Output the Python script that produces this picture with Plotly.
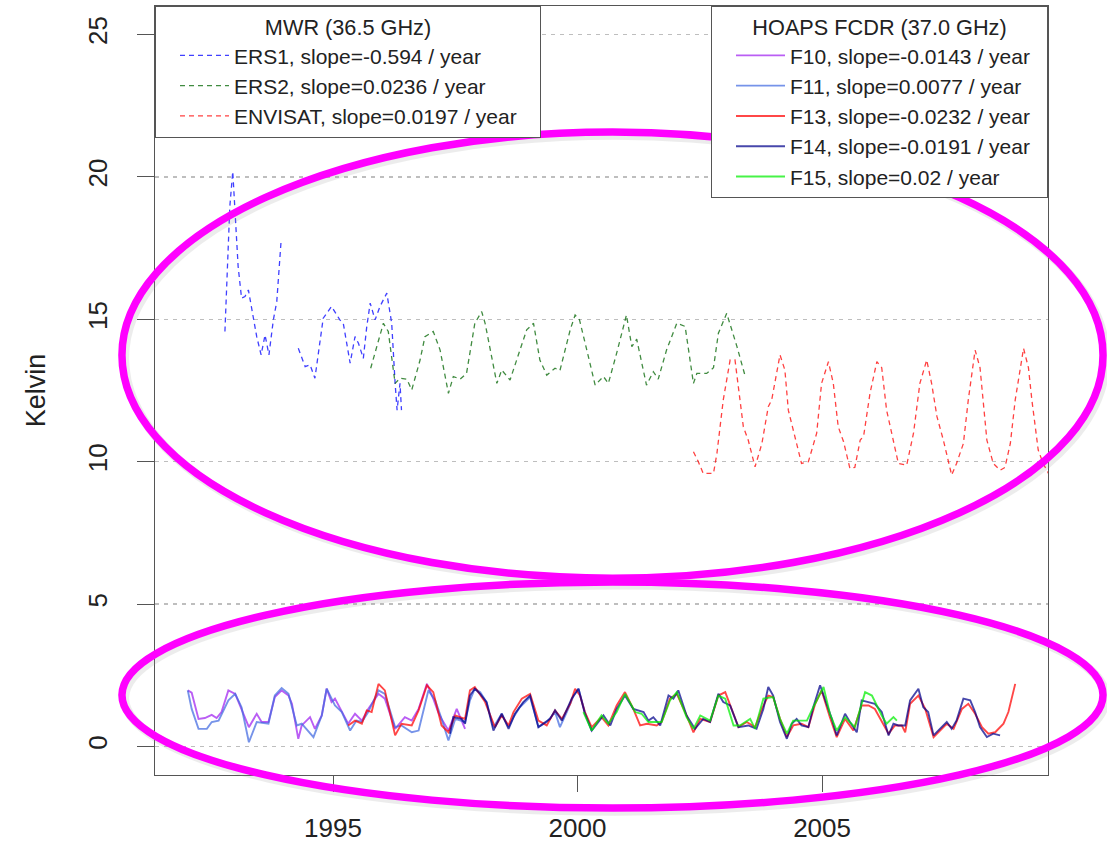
import plotly.graph_objects as go

# ---------------- data ----------------
# MWR (36.5 GHz), dashed
ers1_year = [1992.79, 1992.89, 1992.95, 1992.98, 1993.06, 1993.13, 1993.20, 1993.27, 1993.34, 1993.44,
             1993.53, 1993.61, 1993.69, 1993.78, 1993.85, 1993.94, None,
             1994.29, 1994.43, 1994.53, 1994.63, 1994.80, 1994.97, 1995.14, 1995.21, 1995.35, 1995.45,
             1995.52, 1995.62, 1995.69, 1995.76, 1995.86, 1995.96, 1996.10, 1996.20, 1996.27, 1996.31,
             1996.37, 1996.40]
ers1_val = [14.57, 18.96, 20.19, 19.20, 16.85, 15.74, 15.80, 16.03, 15.33, 14.39,
            13.75, 14.45, 13.75, 14.98, 15.62, 17.79, None,
            13.98, 13.34, 13.40, 12.93, 15.04, 15.45, 14.98, 14.86, 13.46, 14.39,
            14.16, 13.63, 14.74, 15.57, 14.98, 15.45, 15.92, 14.86, 12.75, 11.81,
            12.75, 11.81]

ers2_year = [1995.77, 1996.03, 1996.13, 1996.27, 1996.37, 1996.51, 1996.61, 1996.78, 1996.88, 1997.05,
             1997.19, 1997.36, 1997.46, 1997.60, 1997.73, 1997.90, 1998.04, 1998.11, 1998.35, 1998.45,
             1998.62, 1998.76, 1998.96, 1999.10, 1999.23, 1999.37, 1999.54, 1999.64, 1999.85, 1999.95,
             2000.04, 2000.19, 2000.36, 2000.53, 2000.63, 2000.80, 2001.00, 2001.11, 2001.21, 2001.41,
             2001.55, 2001.65, 2001.82, 2002.03, 2002.20, 2002.37, 2002.44, 2002.64, 2002.78, 2002.88,
             2003.05, 2003.26, 2003.43]
ers2_val = [13.28, 14.86, 14.57, 12.75, 12.93, 12.90, 12.52, 13.57, 14.39, 14.57,
            13.92, 12.40, 12.99, 12.90, 13.10, 14.86, 15.27, 14.86, 12.75, 13.22,
            12.87, 13.57, 14.63, 14.86, 13.57, 13.04, 13.28, 13.20, 14.63, 15.15,
            14.98, 13.92, 12.69, 12.99, 12.75, 13.81, 15.15, 14.04, 14.30, 12.69,
            13.16, 12.90, 13.92, 14.86, 14.75, 12.75, 13.10, 13.10, 13.30, 14.51,
            15.21, 14.04, 12.99]

envisat_year = [2002.37, 2002.47, 2002.57, 2002.78, 2002.85, 2002.98, 2003.12, 2003.22, 2003.39, 2003.49,
                2003.63, 2003.77, 2003.90, 2003.97, 2004.14, 2004.24, 2004.31, 2004.48, 2004.58, 2004.72,
                2004.89, 2004.99, 2005.13, 2005.23, 2005.33, 2005.44, 2005.57, 2005.67, 2005.78, 2005.85,
                2005.98, 2006.12, 2006.22, 2006.32, 2006.46, 2006.56, 2006.73, 2006.87, 2007.00, 2007.14,
                2007.24, 2007.35, 2007.48, 2007.65, 2007.75, 2007.89, 2007.99, 2008.13, 2008.23, 2008.37,
                2008.50, 2008.64, 2008.74, 2008.85, 2008.95, 2009.12, 2009.22, 2009.29, 2009.42, 2009.52,
                2009.63]
envisat_val = [10.35, 10.00, 9.59, 9.59, 10.29, 12.17, 13.57, 13.57, 11.23, 10.76,
               9.82, 10.64, 11.93, 12.17, 13.75, 13.22, 11.81, 10.64, 9.94, 10.00,
               11.00, 12.75, 13.51, 12.75, 11.23, 10.70, 9.76, 9.80, 10.76, 10.90,
               12.40, 13.51, 13.30, 11.81, 10.76, 9.94, 9.88, 11.00, 12.75, 13.57,
               12.75, 11.58, 10.76, 9.53, 9.94, 10.64, 12.17, 13.92, 13.30, 10.76,
               9.94, 9.70, 9.80, 10.64, 12.17, 13.98, 13.30, 12.17, 10.41, 9.94,
               9.59]

# HOAPS FCDR (37.0 GHz), solid
f10_year = [1992.03, 1992.11, 1992.25, 1992.38, 1992.52, 1992.62, 1992.72, 1992.86, 1993.00, 1993.13,
            1993.28, 1993.44, 1993.54, 1993.68, 1993.81, 1993.95, 1994.09, 1994.16, 1994.29, 1994.36,
            1994.53, 1994.63, 1994.77, 1994.87, 1994.97, 1995.04, 1995.18, 1995.31, 1995.45, 1995.59,
            1995.72, 1995.93, 1996.06, 1996.27, 1996.47, 1996.61, 1996.75, 1996.92, 1997.05, 1997.15,
            1997.22, 1997.36, 1997.53, 1997.70]
f10_val = [1.97, 1.89, 0.97, 1.00, 1.11, 1.00, 1.21, 1.97, 1.85, 1.32,
           0.68, 1.15, 0.86, 0.86, 1.74, 1.97, 1.79, 1.50, 0.27, 0.74,
           1.03, 0.62, 1.09, 2.03, 1.56, 1.68, 1.21, 0.80, 1.15, 0.91,
           1.32, 1.85, 1.68, 0.62, 1.03, 0.91, 1.32, 2.20, 1.68, 1.21,
           0.97, 0.56, 1.32, 0.62]

f11_year = [1992.03, 1992.11, 1992.25, 1992.42, 1992.52, 1992.66, 1992.86, 1993.00, 1993.13, 1993.28,
            1993.44, 1993.68, 1993.81, 1993.95, 1994.09, 1994.26, 1994.36, 1994.46, 1994.60, 1994.77,
            1994.87, 1995.04, 1995.18, 1995.35, 1995.48, 1995.59, 1995.72, 1995.93, 1996.06, 1996.27,
            1996.40, 1996.61, 1996.75, 1996.95, 1997.09, 1997.22, 1997.36, 1997.50, 1997.70, 1997.80,
            1997.90, 1998.01, 1998.14, 1998.28, 1998.45, 1998.59, 1998.69, 1998.82, 1999.03, 1999.20,
            1999.37, 1999.54, 1999.64, 1999.78, 1999.92, 2000.02, 2000.15, 2000.29]
f11_val = [1.97, 1.32, 0.62, 0.62, 0.86, 0.91, 1.62, 1.85, 1.38, 0.15,
           0.86, 0.80, 1.79, 2.05, 1.85, 0.74, 0.80, 0.62, 0.33, 1.09,
           2.03, 1.44, 1.21, 0.56, 0.91, 0.86, 1.21, 1.97, 1.85, 0.68,
           0.74, 0.50, 0.56, 1.97, 1.62, 0.97, 0.21, 0.97, 0.86, 1.62,
           2.03, 1.91, 1.56, 0.68, 1.15, 0.68, 1.03, 1.38, 1.74, 0.68,
           0.86, 1.21, 0.68, 1.21, 1.79, 2.03, 1.21, 0.56]

f13_year = [1995.31, 1995.45, 1995.59, 1995.69, 1995.79, 1995.93, 1996.06, 1996.27, 1996.40, 1996.61,
            1996.75, 1996.92, 1997.05, 1997.22, 1997.36, 1997.50, 1997.70, 1997.80, 1997.90, 1998.11,
            1998.31, 1998.45, 1998.59, 1998.69, 1998.86, 1999.03, 1999.20, 1999.37, 1999.54, 1999.68,
            1999.85, 1999.95, 2000.05, 2000.15, 2000.29, 2000.49, 2000.63, 2000.80, 2000.97, 2001.14,
            2001.28, 2001.42, 2001.62, 2001.72, 2001.89, 2002.03, 2002.23, 2002.37, 2002.51, 2002.71,
            2002.88, 2003.02, 2003.15, 2003.29, 2003.46, 2003.63, 2003.77, 2003.90, 2004.00, 2004.14,
            2004.28, 2004.41, 2004.58, 2004.72, 2004.86, 2004.99, 2005.16, 2005.30, 2005.47, 2005.64,
            2005.81, 2005.95, 2006.08, 2006.22, 2006.36, 2006.49, 2006.63, 2006.70, 2006.80, 2006.97,
            2007.11, 2007.28, 2007.41, 2007.55, 2007.69, 2007.86, 2007.99, 2008.13, 2008.27, 2008.40,
            2008.54, 2008.71, 2008.81, 2008.95]
f13_val = [0.74, 0.91, 0.80, 1.27, 1.21, 2.20, 1.97, 0.39, 0.80, 0.74,
           1.27, 2.15, 1.91, 0.74, 0.50, 1.09, 0.97, 1.97, 2.09, 1.56,
           0.68, 1.09, 0.74, 1.21, 1.68, 1.85, 0.91, 0.74, 1.27, 0.97,
           1.50, 2.03, 1.79, 1.21, 0.68, 1.03, 0.74, 1.44, 1.91, 1.32,
           0.74, 0.80, 0.74, 0.86, 1.68, 1.85, 1.09, 0.50, 0.97, 0.86,
           1.79, 1.91, 1.32, 0.68, 0.86, 0.68, 1.32, 1.79, 1.74, 0.97,
           0.33, 0.74, 0.80, 0.68, 1.50, 1.97, 1.03, 0.33, 0.97, 0.56,
           1.44, 1.44, 1.32, 0.91, 0.45, 0.74, 0.74, 0.50, 1.50, 1.79,
           1.32, 0.33, 0.56, 0.80, 0.62, 1.32, 1.50, 1.15, 0.68, 0.45,
           0.50, 0.80, 1.21, 2.20]

f14_year = [1997.39, 1997.46, 1997.63, 1997.70, 1997.80, 1997.90, 1998.01, 1998.14, 1998.28, 1998.45,
            1998.59, 1998.72, 1998.89, 1999.03, 1999.20, 1999.44, 1999.54, 1999.68, 1999.88, 2000.02,
            2000.15, 2000.29, 2000.53, 2000.67, 2000.80, 2000.97, 2001.14, 2001.35, 2001.45, 2001.55,
            2001.69, 2001.86, 2001.96, 2002.06, 2002.23, 2002.40, 2002.57, 2002.71, 2002.88, 2002.98,
            2003.12, 2003.29, 2003.49, 2003.66, 2003.80, 2003.90, 2004.00, 2004.14, 2004.28, 2004.38,
            2004.48, 2004.58, 2004.72, 2004.82, 2004.96, 2005.06, 2005.20, 2005.30, 2005.47, 2005.57,
            2005.71, 2005.81, 2005.95, 2006.08, 2006.22, 2006.36, 2006.46, 2006.56, 2006.70, 2006.80,
            2006.97, 2007.07, 2007.17, 2007.28, 2007.41, 2007.55, 2007.65, 2007.75, 2007.89, 2008.03,
            2008.13, 2008.23, 2008.37, 2008.50, 2008.64]
f14_val = [0.45, 1.03, 0.97, 0.80, 1.79, 2.03, 1.85, 1.56, 0.56, 1.15,
           0.62, 1.15, 1.56, 1.79, 0.68, 0.97, 1.27, 0.91, 1.68, 2.03,
           1.15, 0.56, 1.09, 0.74, 1.32, 1.79, 1.32, 1.21, 0.91, 1.03,
           0.74, 1.79, 1.68, 1.97, 1.09, 0.62, 0.97, 0.86, 1.85, 1.56,
           1.44, 0.68, 0.74, 0.62, 1.32, 2.09, 1.79, 0.86, 0.27, 0.80,
           0.97, 0.74, 0.68, 1.38, 2.15, 1.68, 0.97, 0.39, 1.15, 0.86,
           0.50, 1.62, 1.56, 1.50, 1.21, 0.39, 0.80, 0.74, 0.74, 1.62,
           2.03, 1.38, 1.21, 0.39, 0.62, 0.86, 0.62, 0.91, 1.68, 1.62,
           1.21, 0.68, 0.33, 0.45, 0.39]

f15_year = [2000.12, 2000.29, 2000.49, 2000.63, 2000.80, 2000.97, 2001.18, 2001.31, 2001.45, 2001.72,
            2001.89, 2002.03, 2002.23, 2002.37, 2002.51, 2002.71, 2002.88, 2003.02, 2003.19, 2003.32,
            2003.53, 2003.63, 2003.80, 2004.00, 2004.14, 2004.28, 2004.41, 2004.58, 2004.69, 2004.82,
            2005.03, 2005.16, 2005.30, 2005.47, 2005.67, 2005.88, 2006.02, 2006.22, 2006.32, 2006.46,
            2006.53]
f15_val = [1.21, 0.56, 1.09, 0.80, 1.21, 1.85, 1.21, 1.15, 0.86, 0.86,
           1.62, 1.91, 1.03, 0.62, 1.09, 0.91, 1.79, 1.68, 0.74, 0.74,
           0.97, 0.62, 1.68, 1.74, 0.97, 0.45, 0.91, 0.91, 0.91, 1.38,
           2.09, 1.15, 0.56, 1.03, 0.68, 1.91, 1.79, 1.09, 0.80, 1.03,
           0.91]

mwr_names = ["ERS1, slope=-0.594 / year", "ERS2, slope=0.0236 / year", "ENVISAT, slope=0.0197 / year"]
hoaps_names = ["F10, slope=-0.0143 / year", "F11, slope=0.0077 / year", "F13, slope=-0.0232 / year",
               "F14, slope=-0.0191 / year", "F15, slope=0.02 / year"]
mwr_title = "MWR (36.5 GHz)"
hoaps_title = "HOAPS FCDR (37.0 GHz)"
x_ticks = [1995, 2000, 2005]
y_ticks = [0, 5, 10, 15, 20, 25]
y_label = "Kelvin"

# ---------------- figure ----------------
FONT = "Liberation Sans, Arial, Helvetica, sans-serif"
PAD1 = "\u00a0\u00a0\u00a0"  # right padding inside the legend boxes
PAD2 = "\u00a0\u00a0"
fig = go.Figure()

mwr_series = [(ers1_year, ers1_val, "#0000FF"), (ers2_year, ers2_val, "#006400"), (envisat_year, envisat_val, "#FF0000")]
for name, (xs, ys, col) in zip(mwr_names, mwr_series):
    fig.add_trace(go.Scatter(x=xs, y=ys, mode="lines", name=name + PAD1, legend="legend",
                             line=dict(color=col, width=1.3, dash="5px,4px"), opacity=0.75,
                             connectgaps=False, hoverinfo="skip"))

hoaps_series = [(f10_year, f10_val, "#A020F0"), (f11_year, f11_val, "#4169E1"), (f13_year, f13_val, "#FF0000"),
                (f14_year, f14_val, "#00008B"), (f15_year, f15_val, "#00EE00")]
for name, (xs, ys, col) in zip(hoaps_names, hoaps_series):
    fig.add_trace(go.Scatter(x=xs, y=ys, mode="lines", name=name + PAD2, legend="legend2",
                             line=dict(color=col, width=1.9), opacity=0.72, hoverinfo="skip"))

# magenta highlight ellipses (with soft shadow)
def ellipse(x0, y0, x1, y1, color, width, opacity=1.0):
    return dict(type="circle", xref="paper", yref="paper", x0=x0, y0=y0, x1=x1, y1=y1,
                line=dict(color=color, width=width), opacity=opacity, layer="above")

shapes = []
for (x0, y0, x1, y1) in [(-0.037, 0.256, 1.0616, 0.836), (-0.037, -0.043, 1.0616, 0.251)]:
    shapes.append(ellipse(x0 + 0.003, y0 - 0.004, x1 + 0.003, y1 - 0.004, "#999999", 9, 0.18))
    shapes.append(ellipse(x0, y0, x1, y1, "#FF00FF", 7.5))

legend_common = dict(bgcolor="white", bordercolor="#555555", borderwidth=1,
                     font=dict(family=FONT, size=21, color="#222222"), yanchor="top", y=1,
                     tracegroupgap=0, itemwidth=49, indentation=19)
title_font = dict(family=FONT, size=21.7, color="#222222")

fig.update_layout(
    width=1107, height=844,
    margin=dict(l=155, r=59, t=6, b=69, autoexpand=False),
    paper_bgcolor="white", plot_bgcolor="white",
    font=dict(family=FONT, color="#222222", size=21),
    showlegend=True,
    shapes=shapes,
    xaxis=dict(range=[1991.36, 2009.62], tickvals=x_ticks, ticktext=[str(v) for v in x_ticks],
               ticks="outside", ticklen=16, tickcolor="#555555", tickwidth=1,
               showline=True, linecolor="#555555", linewidth=1, mirror=True,
               showgrid=False, zeroline=False, tickfont=dict(size=26, color="#222222"),
               ticklabelstandoff=14, automargin=False),
    yaxis=dict(range=[-1, 26], tickvals=y_ticks, ticktext=[str(v) for v in y_ticks], tickangle=-90,
               ticks="outside", ticklen=17, tickcolor="#555555", tickwidth=1,
               showline=True, linecolor="#555555", linewidth=1, mirror=True,
               showgrid=True, gridcolor="#BEBEBE", gridwidth=1.5, griddash="4px,5px",
               zeroline=False, tickfont=dict(size=26, color="#222222"), ticklabelstandoff=20,
               title=dict(text=y_label, font=dict(size=27, color="#222222"), standoff=29),
               automargin=False),
    legend=dict(x=0, xanchor="left", title=dict(text=mwr_title, side="top center", font=title_font),
                **legend_common),
    legend2=dict(x=1, xanchor="right", title=dict(text=hoaps_title, side="top center", font=title_font),
                 **legend_common),
)

fig.write_html("out.html", config={"displayModeBar": False, "staticPlot": True},
               post_script="document.body.style.margin='0px';document.body.style.overflow='hidden';")
